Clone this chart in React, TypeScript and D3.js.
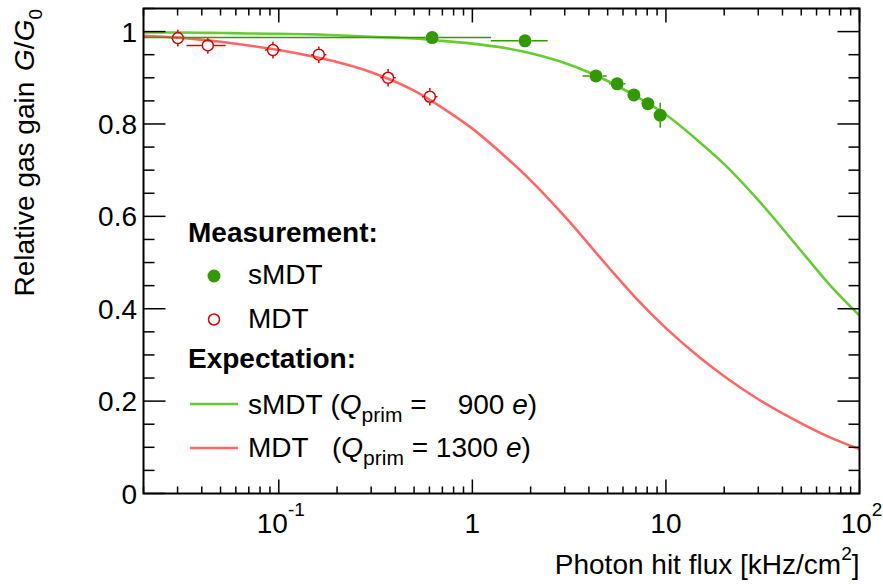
import React from "react";
import * as d3 from "d3";

const W = 883;
const H = 585;
const left = 143.5;
const right = 859.5;
const top = 8.5;
const bottom = 493.5;

// sMDT measurement (filled)
const smdtFlux = [0.62, 1.87, 4.35, 5.6, 6.83, 8.07, 9.34];
const smdtFluxLo = [0.012, 1.245, 3.71, 5.1, 6.55, 7.75, 8.95];
const smdtFluxHi = [1.25, 2.45, 4.94, 6.17, 7.15, 8.4, 9.75];
const smdtGain = [0.987, 0.98, 0.904, 0.887, 0.863, 0.844, 0.819];
const smdtGainErr = [0.004, 0.004, 0.006, 0.006, 0.008, 0.01, 0.027];

// MDT measurement (open)
const mdtFlux = [0.0301, 0.043, 0.0933, 0.161, 0.367, 0.603];
const mdtFluxLo = [0.0278, 0.0334, 0.085, 0.147, 0.335, 0.55];
const mdtFluxHi = [0.0326, 0.0531, 0.102, 0.176, 0.402, 0.66];
const mdtGain = [0.986, 0.97, 0.96, 0.95, 0.9, 0.859];
const mdtGainErr = [0.018, 0.018, 0.018, 0.018, 0.019, 0.019];

// expectation curves
const curveFlux = [0.02, 0.03, 0.05, 0.07, 0.1, 0.15, 0.2, 0.3, 0.5, 0.7, 1, 1.5, 2, 3, 5, 7, 10, 15, 20, 30, 50, 70, 100];
const smdtExpect = [0.998, 0.998, 0.997, 0.996, 0.995, 0.994, 0.992, 0.989, 0.985, 0.98, 0.974, 0.964, 0.953, 0.932, 0.893, 0.86, 0.82, 0.76, 0.713, 0.635, 0.525, 0.452, 0.385];
const mdtExpect = [0.991, 0.987, 0.978, 0.97, 0.96, 0.946, 0.934, 0.912, 0.872, 0.835, 0.79, 0.727, 0.678, 0.6, 0.492, 0.423, 0.358, 0.294, 0.254, 0.204, 0.152, 0.122, 0.096];

const xMajor = [0.1, 1, 10, 100];
const xLabels = [["10", "-1"], ["1", ""], ["10", ""], ["10", "2"]];
const yMajor = [0, 0.2, 0.4, 0.6, 0.8, 1];
const yLabels = ["0", "0.2", "0.4", "0.6", "0.8", "1"];

const lightGreen = "#66cc33";
const darkGreen = "#339900";
const lightRed = "#ff6666";
const darkRed = "#dd0000";
const font = "'Liberation Sans', Arial, Helvetica, sans-serif";
const sp = "\u00A0";

const x = d3.scaleLog().domain([0.02, 100]).range([left, right]);
const y = d3.scaleLinear().domain([0, 1.05]).range([bottom, top]);

const line = d3
  .line<[number, number]>()
  .x((d) => x(d[0]))
  .y((d) => y(d[1]))
  .curve(d3.curveMonotoneX);

function ErrorPoints({ fx, lo, hi, g, ge, r, color, filled }: any) {
  return (
    <g>
      {fx.map((f: number, i: number) => {
        const cx = x(f);
        const cy = y(g[i]);
        const x0 = Math.max(x(lo[i]), left);
        const x1 = x(hi[i]);
        const y0 = y(g[i] + ge[i]);
        const y1 = y(g[i] - ge[i]);
        return (
          <g key={i} stroke={color} strokeWidth={1.5}>
            {x0 < cx - r && <line x1={x0} x2={cx - r} y1={cy} y2={cy} />}
            {x1 > cx + r && <line x1={cx + r} x2={x1} y1={cy} y2={cy} />}
            {y0 < cy - r && <line x1={cx} x2={cx} y1={y0} y2={cy - r} />}
            {y1 > cy + r && <line x1={cx} x2={cx} y1={cy + r} y2={y1} />}
            <circle cx={cx} cy={cy} r={filled ? r : r - 0.5} fill={filled ? color : "none"} stroke={filled ? "none" : color} />
          </g>
        );
      })}
    </g>
  );
}

export default function App() {
  const xMinor = x.ticks().filter((t) => !xMajor.some((m) => Math.abs(m - t) < 1e-9));
  const yMinor = d3.range(0, 1.051, 0.05).filter((v) => Math.abs(v * 5 - Math.round(v * 5)) > 1e-6);

  const smdtLine = line(curveFlux.map((f, i) => [f, smdtExpect[i]] as [number, number]));
  const mdtLine = line(curveFlux.map((f, i) => [f, mdtExpect[i]] as [number, number]));

  return (
    <svg width={W} height={H} style={{ position: "absolute", left: 0, top: 0, background: "#fff" }} fontFamily={font}>
      <defs>
        <clipPath id="plot">
          <rect x={left} y={top} width={right - left} height={bottom - top} />
        </clipPath>
      </defs>

      <g clipPath="url(#plot)" fill="none">
        <path d={smdtLine || ""} stroke={lightGreen} strokeWidth={2.6} />
        <path d={mdtLine || ""} stroke={lightRed} strokeWidth={2.6} />
        <ErrorPoints fx={mdtFlux} lo={mdtFluxLo} hi={mdtFluxHi} g={mdtGain} ge={mdtGainErr} r={6} color={darkRed} filled={false} />
        <ErrorPoints fx={smdtFlux} lo={smdtFluxLo} hi={smdtFluxHi} g={smdtGain} ge={smdtGainErr} r={6.5} color={darkGreen} filled={true} />
      </g>

      {/* ticks */}
      <g stroke="#000" strokeWidth={1.5}>
        {xMajor.map((t) => (
          <g key={"xM" + t}>
            <line x1={x(t)} x2={x(t)} y1={bottom} y2={bottom - 14} />
            <line x1={x(t)} x2={x(t)} y1={top} y2={top + 14} />
          </g>
        ))}
        {xMinor.map((t) => (
          <g key={"xm" + t}>
            <line x1={x(t)} x2={x(t)} y1={bottom} y2={bottom - 7} />
            <line x1={x(t)} x2={x(t)} y1={top} y2={top + 7} />
          </g>
        ))}
        {yMajor.map((t) => (
          <g key={"yM" + t}>
            <line x1={left} x2={left + 22} y1={y(t)} y2={y(t)} />
            <line x1={right} x2={right - 22} y1={y(t)} y2={y(t)} />
          </g>
        ))}
        {yMinor.map((t) => (
          <g key={"ym" + t}>
            <line x1={left} x2={left + 11} y1={y(t)} y2={y(t)} />
            <line x1={right} x2={right - 11} y1={y(t)} y2={y(t)} />
          </g>
        ))}
      </g>
      <rect x={left} y={top} width={right - left} height={bottom - top} fill="none" stroke="#000" strokeWidth={2} />

      {/* tick labels */}
      <g fontSize={28} fill="#000">
        {yMajor.map((t, i) => (
          <text key={"yl" + t} x={137} y={y(t) + 10} textAnchor="end">
            {yLabels[i]}
          </text>
        ))}
        {xMajor.map((t, i) => (
          <text key={"xl" + t} x={x(t) + (xLabels[i][1] ? 2 : 0)} y={533} textAnchor="middle">
            {xLabels[i][0]}
            {xLabels[i][1] && (
              <tspan fontSize={19} dy={-17}>
                {xLabels[i][1]}
              </tspan>
            )}
          </text>
        ))}
      </g>

      {/* axis titles */}
      <text x={right} y={574} textAnchor="end" fontSize={28}>
        Photon hit flux [kHz/cm<tspan fontSize={19} dy={-14}>2</tspan>
        <tspan dy={14}>]</tspan>
      </text>
      <text transform={`translate(34,9) rotate(-90)`} textAnchor="end" fontSize={28}>
        {"Relative gas gain "}
        <tspan fontStyle="italic" dx={3}>G</tspan>/<tspan fontStyle="italic">G</tspan>
        <tspan fontSize={19} dy={8}>0</tspan>
      </text>

      {/* legend */}
      <g fontSize={28} fill="#000">
        <text x={188} y={242} fontWeight="bold">Measurement:</text>
        <circle cx={214} cy={276} r={6.5} fill={darkGreen} />
        <text x={248} y={284}>sMDT</text>
        <circle cx={214} cy={319.5} r={5.5} fill="none" stroke={darkRed} strokeWidth={1.5} />
        <text x={248} y={328}>MDT</text>
        <text x={188} y={368} fontWeight="bold">Expectation:</text>
        <line x1={190} x2={238} y1={404} y2={404} stroke={lightGreen} strokeWidth={2.6} />
        <text x={248} y={414}>
          {`sMDT${sp}(`}
          <tspan fontStyle="italic">Q</tspan>
          <tspan fontSize={21} dy={8}>prim</tspan>
          <tspan dy={-8}>{`${sp}=${sp}${sp}${sp}${sp}900${sp}`}</tspan>
          <tspan fontStyle="italic">e</tspan>)
        </text>
        <line x1={190} x2={238} y1={448} y2={448} stroke={lightRed} strokeWidth={2.6} />
        <text x={248} y={457}>
          {`MDT${sp}${sp}${sp}(`}
          <tspan fontStyle="italic">Q</tspan>
          <tspan fontSize={21} dy={8}>prim</tspan>
          <tspan dy={-8}>{`${sp}=${sp}1300${sp}`}</tspan>
          <tspan fontStyle="italic">e</tspan>)
        </text>
      </g>
    </svg>
  );
}
